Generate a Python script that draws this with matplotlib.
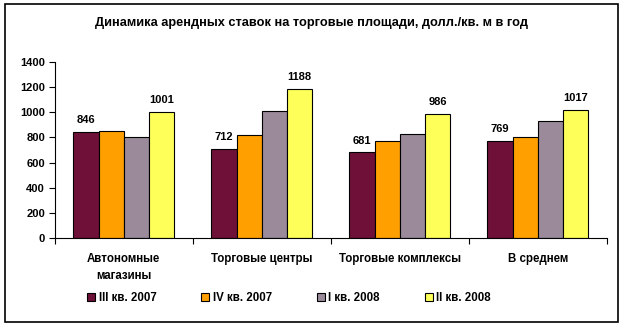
import numpy as np
import matplotlib.pyplot as plt
from matplotlib.patches import Rectangle

plt.rcParams['font.family'] = ['Liberation Sans', 'DejaVu Sans']
plt.rcParams['font.weight'] = 'bold'

categories = ['Автономные\nмагазины', 'Торговые центры', 'Торговые комплексы', 'В среднем']
periods = ['III кв. 2007', 'IV кв. 2007', 'I кв. 2008', 'II кв. 2008']
q3_2007 = [846, 712, 681, 769]
q4_2007 = [848, 819, 772, 803]
q1_2008 = [804, 1010, 827, 933]
q2_2008 = [1001, 1188, 986, 1017]
colors = ['#6E1038', '#FFA000', '#9A8A9A', '#FFFF5A']

series = [q3_2007, q4_2007, q1_2008, q2_2008]

fig = plt.figure(figsize=(6.23, 3.28), dpi=100)
fig.patches.append(Rectangle((0.008, 0.018), 0.984, 0.97, transform=fig.transFigure,
                             fill=False, edgecolor='black', linewidth=1.2))

ax = fig.add_axes([0.088, 0.274, 0.886, 0.537])
x = np.arange(len(categories))
w = 0.183
for i, (vals, col) in enumerate(zip(series, colors)):
    pos = x + (i - 1.5) * w
    bars = ax.bar(pos, vals, w, color=col, edgecolor='black', linewidth=0.8,
                  label=periods[i])
    if i in (0, 3):
        for b, v in zip(bars, vals):
            ax.text(b.get_x() + b.get_width() / 2, v + 55, str(v),
                    ha='center', va='bottom', fontsize=8, fontweight='bold')

ax.set_ylim(0, 1400)
ax.set_yticks(range(0, 1401, 200))
ax.set_xlim(-0.5, 3.5)
ax.set_xticks(np.arange(-0.5, 3.6, 1))
ax.set_xticklabels([])
ax.tick_params(axis='y', labelsize=8, length=4, width=0.8, pad=3)
ax.tick_params(axis='x', length=4, width=0.8)
for t in ax.get_yticklabels():
    t.set_fontweight('bold')
for i, c in enumerate(categories):
    ax.text(i, -120, c, ha='center', va='top', fontsize=8.3, fontweight='bold',
            linespacing=1.55)
ax.spines['top'].set_visible(False)
ax.spines['right'].set_visible(False)

fig.text(0.5, 0.93, 'Динамика арендных ставок на торговые площади, долл./кв. м в год',
         ha='center', va='center', fontsize=9.2, fontweight='bold')

fig.legend(loc='center', bbox_to_anchor=(0.464, 0.09), ncol=4, frameon=False,
           fontsize=8.3, handlelength=0.7, handleheight=0.7, handletextpad=0.3,
           columnspacing=3.9)

fig.savefig('out.png', dpi=100)
